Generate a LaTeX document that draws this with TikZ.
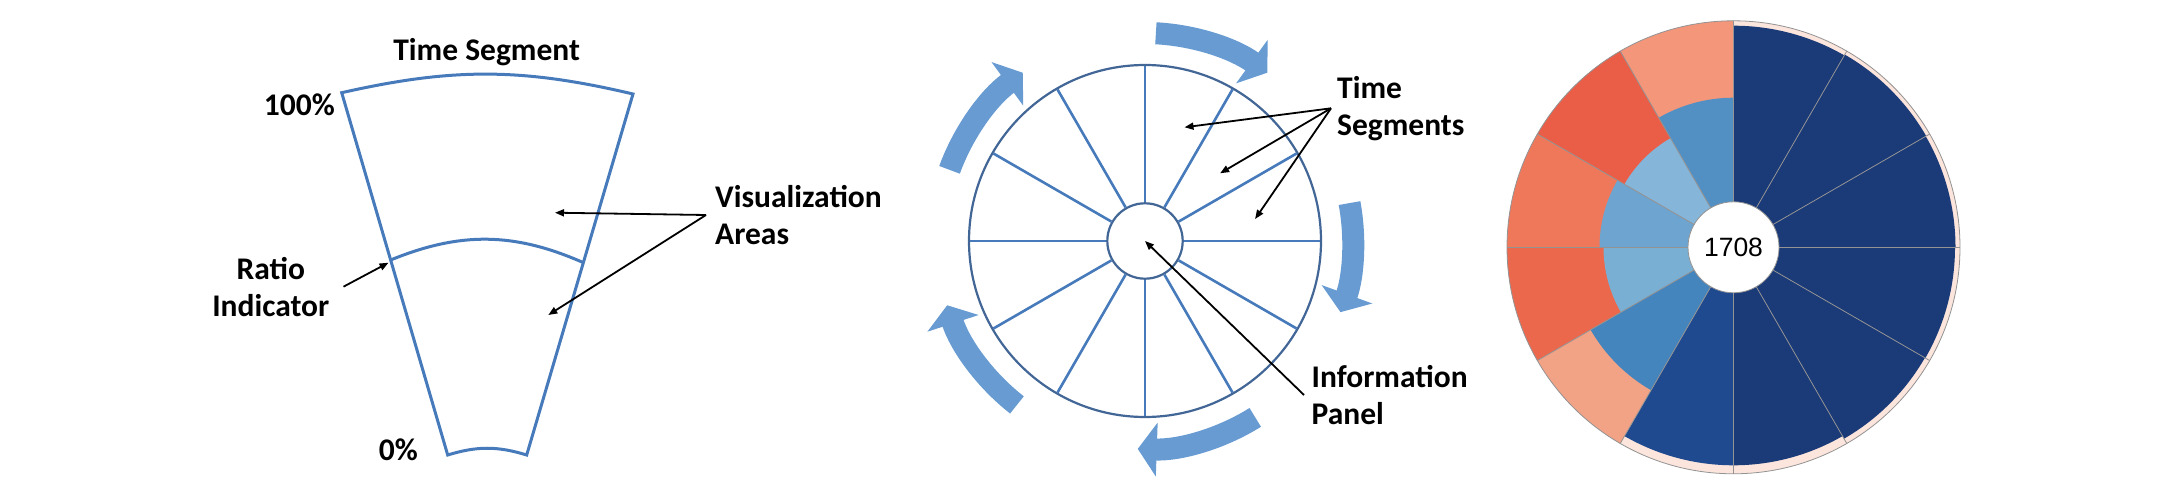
\documentclass[tikz,border=0pt]{standalone}
\usepackage{fontspec}
\setmainfont{Carlito}
\newfontfamily\arialfont{Liberation Sans}
\usetikzlibrary{arrows.meta,calc}
\definecolor{linea}{RGB}{70,122,186}
\definecolor{cerchio}{RGB}{66,102,150}
\definecolor{freccia}{RGB}{103,155,210}
\definecolor{navy}{RGB}{26,58,120}
\definecolor{navyB}{RGB}{31,74,143}
\definecolor{rosachiaro}{RGB}{252,229,220}
\definecolor{bA}{RGB}{82,144,196}
\definecolor{bB}{RGB}{133,181,216}
\definecolor{bC}{RGB}{110,165,208}
\definecolor{bD}{RGB}{122,175,212}
\definecolor{bE}{RGB}{69,133,189}
\definecolor{rA}{RGB}{244,150,122}
\definecolor{rB}{RGB}{234,94,72}
\definecolor{rC}{RGB}{239,120,91}
\definecolor{rD}{RGB}{236,104,76}
\definecolor{rE}{RGB}{242,162,133}
\begin{document}
\begin{tikzpicture}[x=1pt,y=1pt,
    etichetta/.style={font=\fontsize{31.5}{36.7}\selectfont\bfseries, inner sep=0pt},
    puntatore/.style={-{Triangle[length=9pt,width=7pt]}, line width=1.8pt, black},
    bordo/.style={linea, line width=3pt},
    raggioblu/.style={linea, line width=2.6pt},
    giro/.style={freccia, line width=22pt, -{Triangle[length=19pt,width=53pt]}},
    raggio/.style={gray!85, line width=0.8pt}]
    \useasboundingbox (0,0) rectangle (2172,488);

    % Settore
    \coordinate (TL) at (341.7,395.3);
    \coordinate (TR) at (633,394);
    \coordinate (BR) at (526.7,33);
    \coordinate (BL) at (447.7,33);
    \coordinate (ML) at (390.6,228);
    \coordinate (MR) at (583.5,225.3);
    \draw[bordo] (TL) to[bend left=13] (TR) -- (BR) to[bend right=17] (BL) -- cycle;
    \draw[bordo] (ML) to[bend left=23] (MR);

    \node[etichetta] (segmento) at (486.7,436.3) {Time Segment};
    \node[etichetta, anchor=east] (cento) at (335,383) {100\%};
    \node[etichetta] (zero) at (398.3,38) {0\%};
    \node[etichetta, align=center] (ratio) at (270.8,201.3) {Ratio\\Indicator};
    \node[etichetta, align=left, anchor=west] (aree) at (715,273) {Visualization\\Areas};

    % Frecce del settore
    \coordinate (puntaRatio) at (388.5,225.3);
    \coordinate (areaSu) at (555,275.3);
    \coordinate (areaGiu) at (548.3,173);
    \draw[puntatore] ([xshift=14pt]ratio.east) -- (puntaRatio);
    \draw[puntatore] ([xshift=-9pt]aree.west) -- (areaSu);
    \draw[puntatore] ([xshift=-9pt]aree.west) -- (areaGiu);

    % Ruota
    \coordinate (M) at (1145,247);
    \draw[cerchio, line width=2.2pt] (M) circle (176);
    \node[circle, draw=cerchio, line width=2.2pt, minimum size=75.4pt, inner sep=0pt] (pannello) at (M) {};
    \foreach \a in {0,30,...,330}
        \draw[raggioblu] (pannello.\a) -- ($(M)+(\a:175)$);

    % Frecce curve
    \foreach \da/\a in {87/54, 10.5/-20, -58/-92, -128/-162, 160/126}
        \draw[giro] ($(M)+(\da:208)$) arc[start angle=\da, end angle=\a, radius=208];

    \node[etichetta, align=left, anchor=west] (tempi) at (1337,379.7) {Time\\Segments};
    \node[etichetta, align=left, anchor=west] (info) at (1311.5,93) {Information\\Panel};
    \coordinate (segA) at (1184.5,360.7);
    \coordinate (segB) at (1220.1,314.7);
    \coordinate (segC) at (1255.1,269);
    \foreach \p in {segA,segB,segC}
        \draw[puntatore] ([xshift=-6pt]tempi.west) -- (\p);
    \draw[puntatore] ([xshift=-7.5pt]info.west) -- (pannello.center);

    % Grafico radiale
    \coordinate (R) at (1733.5,240.7);
    \fill[rosachiaro] (R) circle (226.5);
    \foreach \a/\r/\c in {60/221.6/navy, 30/222.5/navy, 0/222/navy, -30/221.5/navy,
                          -60/221/navy, -90/218/navy, -120/218/navyB}
        \fill[\c] (R) -- +(\a:\r) arc[start angle=\a, delta angle=30, radius=\r] -- cycle;
    \foreach \a/\ri/\ci/\co in {90/149.6/bA/rA, 120/126/bB/rB, 150/134/bC/rC,
                                180/130/bD/rD, 210/165/bE/rE}
    {
        \fill[\co] (R) -- +(\a:226.5) arc[start angle=\a, delta angle=30, radius=226.5] -- cycle;
        \fill[\ci] (R) -- +(\a:\ri) arc[start angle=\a, delta angle=30, radius=\ri] -- cycle;
    }
    \foreach \a in {0,30,...,330}
        \draw[raggio] (R) -- +(\a:226.5);
    \draw[raggio] (R) circle (226.5);
    \node[circle, fill=white, draw=gray!85, line width=0.8pt, minimum size=91pt, inner sep=0pt,
          font=\arialfont\fontsize{26.5}{30}\selectfont] (anno) at (R) {1708};

\end{tikzpicture}
\end{document}
